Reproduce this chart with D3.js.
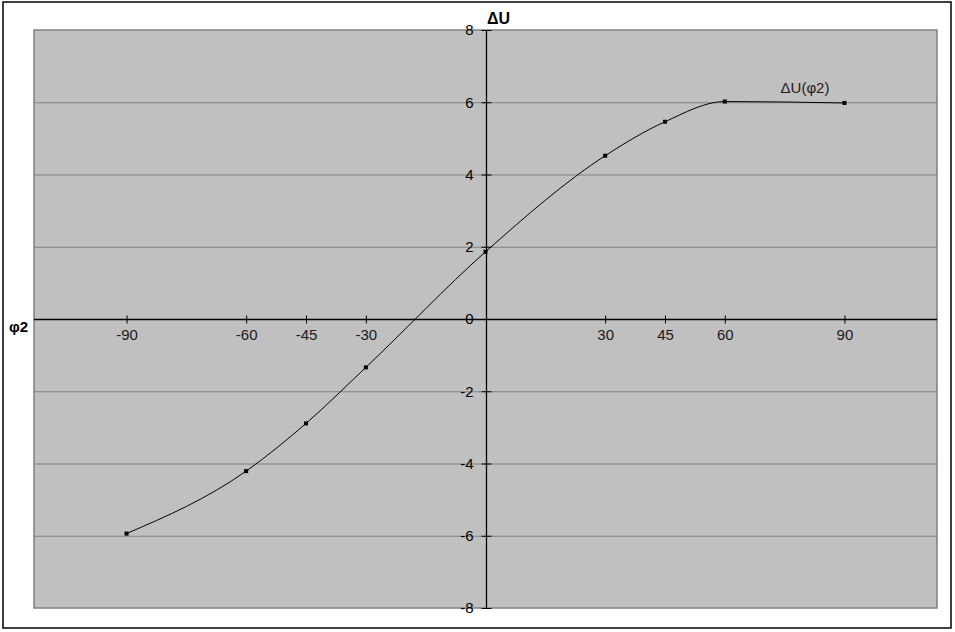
<!DOCTYPE html>
<html><head><meta charset="utf-8">
<script src="https://cdn.jsdelivr.net/npm/d3@7"></script>
<style>body{margin:0;background:#fff;}svg{display:block;font-family:"Liberation Sans",Arial,sans-serif;}</style>
</head><body>
<script>
const phi = [-90, -60, -45, -30, 0, 30, 45, 60, 90];
const dU = [-5.94, -4.21, -2.89, -1.34, 1.86, 4.52, 5.46, 6.02, 5.98];
const xTicks = [-90, -60, -45, -30, 30, 45, 60, 90];
const yTicks = [-8, -6, -4, -2, 0, 2, 4, 6, 8];
const seriesName = "ΔU(φ2)";
const xTitle = "φ2", yTitle = "ΔU";

const W = 955, H = 632;
const svg = d3.select("body").append("svg").attr("width", W).attr("height", H);
svg.append("rect").attr("x", 3).attr("y", 2).attr("width", 948).attr("height", 626)
  .attr("fill", "#fff").attr("stroke", "#000").attr("stroke-width", 1.5);

const L = 34, R = 937, T = 30, B = 608;
const x = d3.scaleLinear().domain([-113.2, 113.2]).range([L, R]);
const y = d3.scaleLinear().domain([-8, 8]).range([B, T]);

svg.append("rect").attr("x", L).attr("y", T).attr("width", R - L).attr("height", B - T)
  .attr("fill", "#c0c0c0").attr("stroke", "#808080").attr("stroke-width", 1.5);

// gridlines
svg.append("g").selectAll("line").data(yTicks.filter(d => d !== 0 && d !== 8 && d !== -8)).join("line")
  .attr("x1", L).attr("x2", R).attr("y1", d => y(d) + 0.5).attr("y2", d => y(d) + 0.5)
  .attr("stroke", "#808080").attr("stroke-width", 1);

const fmt = d => String(d);

// y axis
const x0 = Math.round(x(0)) + 0.5;
const yAx = svg.append("g").attr("transform", `translate(${x0},0)`)
  .call(d3.axisLeft(y).tickValues(yTicks).tickSize(5).tickFormat(fmt));
yAx.select(".domain").remove();
yAx.selectAll(".tick line").attr("x1", -5).attr("x2", 5).attr("stroke", "#000");
yAx.selectAll(".tick text").attr("x", -13).attr("font-size", 15).attr("fill", "#000")
  .attr("font-family", "Liberation Sans, Arial, sans-serif");
svg.append("line").attr("x1", x0).attr("x2", x0).attr("y1", T).attr("y2", B).attr("stroke", "#000").attr("stroke-width", 1.3);

// x axis
const y0 = Math.round(y(0)) + 0.5;
const xAx = svg.append("g").attr("transform", `translate(0,${y0})`)
  .call(d3.axisBottom(x).tickValues(xTicks).tickSize(4).tickFormat(fmt));
xAx.select(".domain").remove();
xAx.selectAll(".tick line").attr("y1", -4).attr("y2", 4).attr("stroke", "#000");
xAx.selectAll(".tick text").attr("y", 20).attr("dy", 0).attr("font-size", 15).attr("fill", "#201818")
  .attr("font-family", "Liberation Sans, Arial, sans-serif");
svg.append("line").attr("x1", L).attr("x2", R).attr("y1", y0).attr("y2", y0).attr("stroke", "#000").attr("stroke-width", 1.3);

// line
const data = phi.map((p, i) => [p, dU[i]]);
svg.append("path").datum(data)
  .attr("d", d3.line().x(d => x(d[0])).y(d => y(d[1])).curve(d3.curveMonotoneX))
  .attr("fill", "none").attr("stroke", "#000").attr("stroke-width", 1);
svg.append("g").selectAll("rect").data(data).join("rect")
  .attr("x", d => x(d[0]) - 2).attr("y", d => y(d[1]) - 2).attr("width", 4).attr("height", 4)
  .attr("fill", "#000");

// labels
svg.append("text").attr("x", 805).attr("y", 93).attr("text-anchor", "middle")
  .attr("font-size", 15).attr("fill", "#2a1a1a").text(seriesName);
svg.append("text").attr("x", 487).attr("y", 24).attr("font-size", 16).attr("font-weight", "bold")
  .attr("fill", "#000").text(yTitle);
svg.append("text").attr("x", 9).attr("y", 332).attr("font-size", 15).attr("font-weight", "bold")
  .attr("fill", "#000").text(xTitle);
</script>
</body></html>
